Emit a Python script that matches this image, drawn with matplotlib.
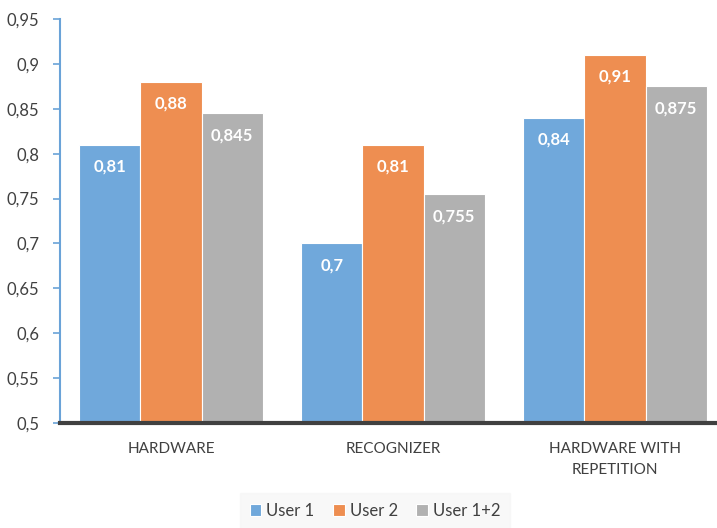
import matplotlib
matplotlib.use("Agg")
from matplotlib import pyplot as plt
import numpy as np

categories = ["HARDWARE", "RECOGNIZER", "HARDWARE WITH\nREPETITION"]
series_names = ["User 1", "User 2", "User 1+2"]
user1 = [0.81, 0.70, 0.84]
user2 = [0.88, 0.81, 0.91]
user12 = [0.845, 0.755, 0.875]
yticks = [0.5, 0.55, 0.6, 0.65, 0.7, 0.75, 0.8, 0.85, 0.9, 0.95]

colors = ["#70A8DB", "#EE8E51", "#B1B1B1"]

plt.rcParams["font.family"] = ["Lato", "DejaVu Sans"]

fig = plt.figure(figsize=(7.17, 5.28), dpi=100)
ax = fig.add_axes([60 / 717, 105 / 528, 666 / 717, 404 / 528])

x = np.arange(len(categories))
w = 0.275
for i, (vals, name, c) in enumerate(zip([user1, user2, user12], series_names, colors)):
    bars = ax.bar(x + (i - 1) * w, vals, w, color=c, edgecolor="white",
                  linewidth=0.8, label=name, zorder=2)
    for b, v in zip(bars, vals):
        txt = ("%g" % v).replace(".", ",")
        ax.annotate(txt, (b.get_x() + b.get_width() / 2, v), xytext=(0, -22),
                    textcoords="offset pixels",
                    ha="center", va="center", color="white",
                    fontweight="bold", fontsize=12)

ax.set_xlim(-0.5, 2.5)
ax.set_ylim(0.5, 0.95)
ax.set_yticks(yticks)
ax.set_yticklabels([("%g" % t).replace(".", ",") for t in yticks])
ax.set_xticks(x)
ax.set_xticklabels(categories, fontsize=11, color="#404040", linespacing=1.6)

for s in ["top", "right"]:
    ax.spines[s].set_visible(False)
ax.spines["left"].set_color("#6AA3D8")
ax.spines["left"].set_linewidth(1.5)
ax.spines["bottom"].set_color("#404040")
ax.spines["bottom"].set_linewidth(3)
ax.spines["bottom"].set_zorder(3)
ax.tick_params(axis="y", length=5, width=1.2, color="#6AA3D8",
               labelsize=12, labelcolor="#404040", pad=10)
ax.tick_params(axis="x", length=0, pad=14)

leg = fig.legend(loc="center", bbox_to_anchor=(375 / 717, 1 - 511 / 528),
                 ncol=3, frameon=True, fontsize=12, handlelength=0.7,
                 handleheight=0.7, handletextpad=0.3, columnspacing=1.1,
                 borderpad=0.6, borderaxespad=0, fancybox=False)
leg.get_frame().set_facecolor("#F7F7F7")
leg.get_frame().set_edgecolor("#F7F7F7")
for t in leg.get_texts():
    t.set_color("#404040")

fig.savefig("out.png", dpi=100)
